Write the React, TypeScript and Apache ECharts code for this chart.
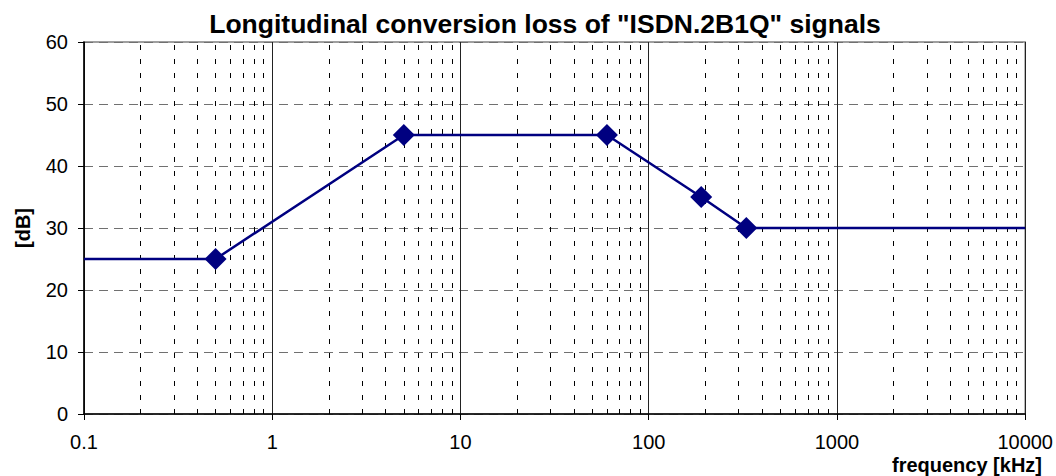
import React, { useEffect, useRef } from "react";
import * as echarts from "echarts";

const frequencies = [0.1, 0.5, 5, 60, 190, 330, 10000];
const lossDb = [25, 25, 45, 45, 35, 30, 30];
const hasMarker = [false, true, true, true, true, true, false];
const majorTicks = [0.1, 1, 10, 100, 1000, 10000];
const minorMultipliers = [2, 3, 4, 5, 6, 7, 8, 9];
const titleText = 'Longitudinal conversion loss of "ISDN.2B1Q" signals';
const xName = "frequency [kHz]";
const yName = "[dB]";

export default function App() {
  const ref = useRef<HTMLDivElement>(null);
  useEffect(() => {
    if (!ref.current) return;
    const chart = echarts.init(ref.current, undefined, { renderer: "svg" });
    const minors: number[] = [];
    for (let d = 0; d < majorTicks.length - 1; d++) {
      for (const m of minorMultipliers) minors.push(Number((majorTicks[d] * m).toPrecision(6)));
    }
    const font = "'Liberation Sans', Arial, sans-serif";
    chart.setOption({
      animation: false,
      backgroundColor: "#fff",
      textStyle: { fontFamily: font },
      grid: {
        left: 84,
        right: 29,
        top: 42,
        bottom: 62,
        show: true,
        borderColor: "#808080",
        borderWidth: 1.5,
        backgroundColor: "transparent",
      },
      title: {
        text: titleText,
        left: 540,
        textAlign: "center",
        top: 5,
        textStyle: { fontFamily: font, fontSize: 26.5, fontWeight: "bold", color: "#000" },
      },
      graphic: [
        {
          type: "text",
          right: 14,
          bottom: 1,
          style: { text: xName, font: `bold 20px ${font}`, fill: "#000" },
        },
        {
          type: "text",
          x: 23,
          y: 228,
          rotation: Math.PI / 2,
          style: {
            text: yName,
            font: `bold 20px ${font}`,
            fill: "#000",
            align: "center",
            verticalAlign: "middle",
          },
        },
      ],
      xAxis: {
        type: "log",
        logBase: 10,
        min: 0.1,
        max: 10000,
        axisLine: { show: true, onZero: false, lineStyle: { color: "#000", width: 1.5 } },
        axisTick: { show: true, length: 6, lineStyle: { color: "#000" } },
        axisLabel: {
          color: "#000",
          fontSize: 20,
          fontFamily: font,
          margin: 18,
          formatter: (v: number) => String(Number(v.toPrecision(6))),
        },
        splitLine: { show: true, lineStyle: { color: "#222", width: 1, type: "solid" } },
      },
      yAxis: {
        type: "value",
        min: 0,
        max: 60,
        interval: 10,
        axisLine: { show: true, lineStyle: { color: "#000", width: 1.5 } },
        axisTick: { show: true, length: 6, lineStyle: { color: "#000" } },
        axisLabel: { color: "#000", fontSize: 20, fontFamily: font, margin: 16 },
        splitLine: { show: true, lineStyle: { color: "#707070", width: 1, type: [9, 6] } },
      },
      series: [
        {
          type: "line",
          data: frequencies.map((f, i) => ({
            value: [f, lossDb[i]],
            symbol: hasMarker[i] ? "diamond" : "none",
          })),
          symbolSize: 22,
          lineStyle: { color: "#000080", width: 2.5 },
          itemStyle: { color: "#000080" },
          z: 5,
          markLine: {
            silent: true,
            symbol: ["none", "none"],
            label: { show: false },
            lineStyle: { color: "#000", width: 1, type: [5, 9] },
            data: minors.map((m) => ({ xAxis: m })),
            z: 1,
          },
        },
      ],
    });
    return () => chart.dispose();
  }, []);
  return (
    <div
      ref={ref}
      style={{ position: "absolute", left: 0, top: 0, width: 1056, height: 476 }}
    />
  );
}
